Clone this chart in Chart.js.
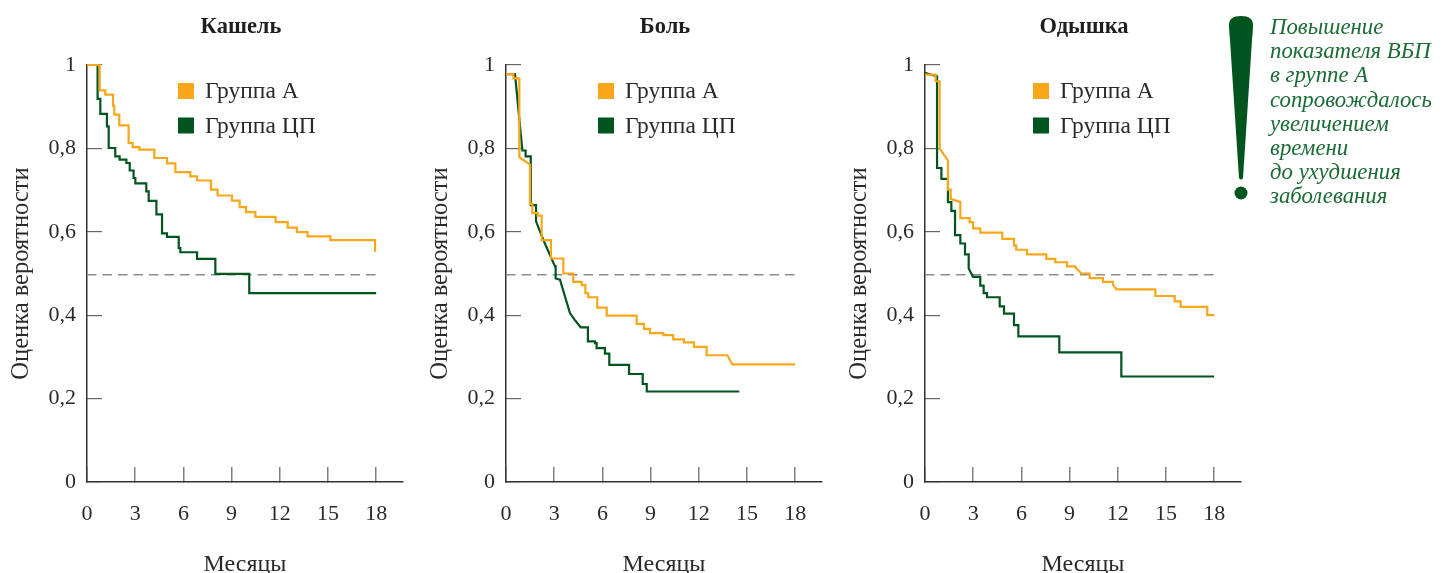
<!DOCTYPE html>
<html lang="ru">
<head>
<meta charset="utf-8">
<title>Оценка вероятности</title>
<script src="https://cdn.jsdelivr.net/npm/chart.js@4/dist/chart.umd.min.js"></script>
<style>
    body { margin: 0; background: #fff; width: 1444px; height: 573px; position: relative; overflow: hidden; }
    canvas { position: absolute; top: 0; }
    #note {
        position: absolute; left: 1270px; top: 15px; color: #1b6b36;
        font: italic 22.8px/24.2px "Liberation Serif", serif; white-space: pre;
    }
    #mark { position: absolute; left: 1228px; top: 16px; }
</style>
</head>
<body>
<canvas id="cough" width="482" height="573" style="left:0"></canvas>
<canvas id="pain" width="492" height="573" style="left:419px"></canvas>
<canvas id="dyspnea" width="492" height="573" style="left:838px"></canvas>
<svg id="mark" width="26" height="186" viewBox="0 0 26 186">
    <path d="M1 9 Q1 0 13 0 Q25 0 25 9 Q25 14 24 24 L15 162 Q13 165 11 162 L2 24 Q1 14 1 9 Z" fill="#00551e"/>
    <circle cx="13" cy="177" r="6.5" fill="#00551e"/>
</svg>
<div id="note">Повышение
показателя ВБП
в группе А
сопровождалось
увеличением
времени
до ухудшения
заболевания</div>

<script>
// Tick labels and group names
const xTickValues = [0, 3, 6, 9, 12, 15, 18];
const yTickValues = [0, 0.2, 0.4, 0.6, 0.8, 1];
const groupNames = ['Группа А', 'Группа ЦП'];
const xAxisName = 'Месяцы';
const yAxisName = 'Оценка вероятности';
const medianLevel = 0.497;

// Кашель
const coughAX = [0, 0.79, 1.14, 1.62, 1.70, 2.01, 2.59, 2.84, 3.26, 4.19, 4.98, 5.50, 6.43, 6.85, 7.72, 8.13, 9.02, 9.50, 9.90, 10.48, 11.74, 12.49, 13.07, 13.73, 15.15, 17.93, 18];
const coughAY = [1, 0.939, 0.929, 0.902, 0.881, 0.855, 0.813, 0.803, 0.797, 0.777, 0.764, 0.743, 0.733, 0.723, 0.701, 0.687, 0.675, 0.659, 0.647, 0.636, 0.623, 0.610, 0.599, 0.589, 0.580, 0.555, 0.555];
const coughCX = [0, 0.66, 0.83, 1.24, 1.35, 1.76, 2.03, 2.45, 2.66, 2.90, 3.01, 3.69, 3.84, 4.32, 4.67, 4.98, 5.71, 5.81, 6.85, 7.99, 10.10, 18];
const coughCY = [1, 0.919, 0.883, 0.853, 0.801, 0.781, 0.773, 0.765, 0.747, 0.729, 0.716, 0.697, 0.674, 0.642, 0.596, 0.588, 0.561, 0.551, 0.535, 0.499, 0.453, 0.453];

// Боль
const painAX = [0, 0.46, 0.83, 1.49, 1.49, 1.64, 1.97, 2.22, 2.80, 3.57, 4.19, 4.71, 4.94, 5.12, 5.68, 6.27, 8.13, 8.59, 8.96, 9.79, 10.41, 11.08, 11.70, 12.49, 13.78, 14.09, 18];
const painAY = [0.978, 0.968, 0.779, 0.761, 0.667, 0.645, 0.639, 0.580, 0.536, 0.500, 0.480, 0.472, 0.453, 0.443, 0.418, 0.399, 0.379, 0.367, 0.357, 0.352, 0.342, 0.335, 0.324, 0.304, 0.304, 0.282, 0.282];
const painASlopes = [3, 25];
const painCX = [0, 0.56, 1.02, 1.22, 1.54, 1.87, 2.32, 3.05, 3.09, 3.36, 3.98, 4.29, 4.65, 5.10, 5.54, 5.64, 6.16, 6.43, 7.66, 8.51, 8.76, 14.52];
const painCY = [0.978, 0.978, 0.795, 0.781, 0.664, 0.625, 0.581, 0.517, 0.488, 0.485, 0.405, 0.388, 0.371, 0.337, 0.333, 0.321, 0.308, 0.281, 0.259, 0.235, 0.217, 0.217];
const painCSlopes = [2, 6, 7, 9, 10, 11, 12];

// Одышка
const dyspneaAX = [0, 0.66, 0.91, 1.43, 1.43, 1.60, 2.16, 2.20, 2.78, 2.99, 3.44, 4.81, 5.54, 5.68, 6.35, 7.55, 8.11, 8.84, 9.36, 9.73, 10.25, 11.08, 11.70, 11.91, 14.34, 15.54, 15.91, 17.57, 18];
const dyspneaAY = [0.977, 0.961, 0.800, 0.771, 0.701, 0.679, 0.672, 0.633, 0.623, 0.608, 0.598, 0.583, 0.567, 0.557, 0.546, 0.535, 0.527, 0.517, 0.515, 0.500, 0.489, 0.480, 0.473, 0.462, 0.446, 0.433, 0.420, 0.400, 0.400];
const dyspneaASlopes = [3, 6, 19, 23];
const dyspneaCX = [0, 0.71, 0.75, 1.02, 1.43, 1.64, 1.87, 2.20, 2.49, 2.72, 2.99, 3.44, 3.65, 3.86, 4.65, 4.92, 5.54, 5.81, 8.36, 12.22, 18];
const dyspneaCY = [0.981, 0.973, 0.753, 0.727, 0.671, 0.650, 0.592, 0.572, 0.546, 0.512, 0.492, 0.471, 0.453, 0.443, 0.421, 0.404, 0.376, 0.349, 0.311, 0.253, 0.253];
const dyspneaCSlopes = [1, 10];

const orange = '#f9a61a';
const green = '#00551e';
const serif = '"Liberation Serif", serif';
const textColor = '#2b2a29';

// Kaplan-Meier style line: hold the last value, then drop at the next x.
// Indices listed in slopes are joined with a straight line instead.
function stepPoints(xs, ys, slopes = []) {
    const points = [{ x: xs[0], y: ys[0] }];
    for (let i = 1; i < xs.length; i++) {
        if (!slopes.includes(i)) points.push({ x: xs[i], y: ys[i - 1] });
        points.push({ x: xs[i], y: ys[i] });
    }
    return points;
}

// Draws the two-row legend inside the plot
const groupLegend = {
    id: 'groupLegend',
    afterLayout(chart) {
        // centre the title on the whole canvas, not on the padded area
        chart.titleBlock.right = chart.width;
    },
    afterDraw(chart, args, opts) {
        const ctx = chart.ctx;
        ctx.save();
        ctx.textBaseline = 'middle';
        ctx.textAlign = 'left';
        ctx.font = '23.5px ' + serif;
        groupNames.forEach((name, i) => {
            const top = 83 + i * 34.5;
            ctx.fillStyle = chart.data.datasets[i].borderColor;
            ctx.fillRect(opts.x, top, 16, 16);
            ctx.fillStyle = textColor;
            ctx.fillText(name, opts.x + 27, top + 9);
        });
        ctx.restore();
    }
};

function drawPanel(canvasId, title, a, c, legendX) {
    const line = (label, data, color) => ({
        label, data, borderColor: color, borderWidth: 2.2,
        pointRadius: 0, tension: 0, clip: false, borderJoinStyle: 'miter'
    });
    new Chart(document.getElementById(canvasId), {
        type: 'line',
        data: {
            datasets: [
                line(groupNames[0], a, orange),
                line(groupNames[1], c, green),
                {
                    label: 'Медиана',
                    data: [{ x: 0, y: medianLevel }, { x: 18, y: medianLevel }],
                    borderColor: '#8c8c8c', borderWidth: 1.5, borderDash: [9.5, 6], pointRadius: 0
                }
            ]
        },
        plugins: [groupLegend],
        options: {
            responsive: false,
            animation: false,
            layout: { padding: { right: document.getElementById(canvasId).width - 403 } },
            plugins: {
                legend: { display: false },
                tooltip: { enabled: false },
                title: {
                    display: true, text: title, color: '#1f1e1d',
                    font: { family: serif, size: 22.5, weight: 'bold', lineHeight: 1.2 },
                    padding: { top: 14, bottom: 24 }
                },
                groupLegend: { x: legendX }
            },
            scales: {
                x: {
                    type: 'linear', min: 0, max: 19.67,
                    afterBuildTicks: (scale) => { scale.ticks = xTickValues.map(value => ({ value })); },
                    afterFit: (scale) => { scale.height = 91; },
                    border: { color: '#333', width: 1.5 },
                    grid: { drawOnChartArea: false, tickLength: -15, color: '#808080', lineWidth: 1.5 },
                    ticks: {
                        autoSkip: false, maxRotation: 0, padding: 34, color: textColor,
                        font: { family: serif, size: 22 },
                        callback: (v) => String(v)
                    },
                    title: {
                        display: true, text: xAxisName, color: textColor,
                        font: { family: serif, size: 24, lineHeight: 1 }, padding: { top: 0, bottom: -4 }
                    }
                },
                y: {
                    min: 0, max: 1,
                    afterBuildTicks: (scale) => { scale.ticks = yTickValues.map(value => ({ value })); },
                    afterFit: (scale) => { scale.width = 87; },
                    border: { color: '#333', width: 1.5 },
                    grid: { drawOnChartArea: false, tickLength: -15, color: '#666', lineWidth: 1.2 },
                    ticks: {
                        autoSkip: false, padding: 26, color: textColor,
                        font: { family: serif, size: 22 },
                        callback: (v) => String(v).replace('.', ',')
                    },
                    title: {
                        display: true, text: yAxisName, color: textColor,
                        font: { family: serif, size: 24.5, lineHeight: 1.2 }, padding: { top: 7, bottom: 0 }
                    }
                }
            }
        }
    });
}

drawPanel('cough', 'Кашель',
    stepPoints(coughAX, coughAY), stepPoints(coughCX, coughCY), 178);
drawPanel('pain', 'Боль',
    stepPoints(painAX, painAY, painASlopes), stepPoints(painCX, painCY, painCSlopes), 179);
drawPanel('dyspnea', 'Одышка',
    stepPoints(dyspneaAX, dyspneaAY, dyspneaASlopes), stepPoints(dyspneaCX, dyspneaCY, dyspneaCSlopes), 195);
</script>
</body>
</html>
